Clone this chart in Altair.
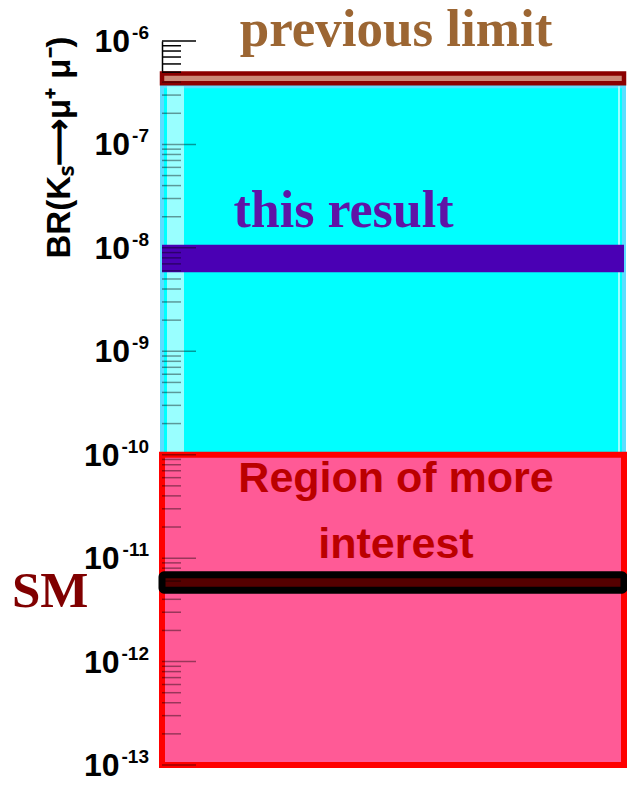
import altair as alt
import pandas as pd

# ---------------- data ----------------
band_names = ["allowed region", "previous limit", "this result", "SM", "Region of more interest"]
band_lo = [1.0e-10, 3.9e-7, 5.8e-9, 4.9e-12, 1.0e-13]
band_hi = [3.65e-7, 4.85e-7, 1.07e-8, 6.9e-12, 1.0e-10]

decades = [-13, -12, -11, -10, -9, -8, -7, -6]
minor_mult = [2, 3, 4, 5, 6, 7, 8, 9]

region_lines = ["Region of more", "interest"]
y_title = "BR(Kₛ⟶μ⁺ μ⁻)"

# ---------------- tables ----------------
W, H = 462, 724
bands = pd.DataFrame({"name": band_names, "lo": band_lo, "hi": band_hi})
major_df = pd.DataFrame({"e": decades})
minor_df = pd.DataFrame(
    {"v": [m * 10.0 ** e for e in decades[:-1] for m in minor_mult]}
)

yscale = alt.Scale(type="log", domain=[1e-13, 1e-6], nice=False)
AX = alt.Axis(
    title=y_title,
    labels=False,
    ticks=False,
    grid=False,
    domain=True,
    domainColor="black",
    domainWidth=1.5,
    titleFont="Liberation Sans",
    titleFontSize=33,
    titleFontWeight="bold",
    titleColor="black",
    titleAngle=270,
    titleAlign="center",
    titleBaseline="alphabetic",
    titleX=-93,
    titleY=106,
)


def Y(field):
    return alt.Y(field, type="quantitative", scale=yscale, axis=AX)


def band(name, **kw):
    return (
        alt.Chart(bands)
        .transform_filter(alt.datum.name == name)
        .mark_rect(**kw)
        .encode(y=Y("lo"), y2="hi", x=alt.value(0), x2=alt.value(W))
    )


cyan = band("allowed region", fill="#00FFFF", stroke="#5EDDFF", strokeWidth=4)
strip_left = (
    alt.Chart(bands)
    .transform_filter(alt.datum.name == "allowed region")
    .mark_rect(fill="#99FFFF")
    .encode(y=Y("lo"), y2="hi", x=alt.value(5), x2=alt.value(22))
)
strip_right = (
    alt.Chart(bands)
    .transform_filter(alt.datum.name == "allowed region")
    .mark_rect(fill="#99FFFF")
    .encode(y=Y("lo"), y2="hi", x=alt.value(W - 6), x2=alt.value(W - 4))
)
red = band("Region of more interest", fill="#FF5A96", stroke="#FF0000", strokeWidth=6)
prev = band("previous limit", fill="#CC8877", stroke="#8B0000", strokeWidth=4.5)
this = band("this result", fill="#4A00B4")
sm = band("SM", fill="#550000", stroke="black", strokeWidth=7, cornerRadius=2)

tick_op = alt.condition("datum.v >= 4.9e-7", alt.value(1.0), alt.value(0.4))
major_ticks = (
    alt.Chart(major_df)
    .transform_calculate(v="pow(10, datum.e)")
    .mark_rule(color="black", strokeWidth=1.5)
    .encode(y=Y("v"), x=alt.value(0), x2=alt.value(34), opacity=tick_op)
)
minor_ticks = (
    alt.Chart(minor_df)
    .mark_rule(color="black", strokeWidth=1.5)
    .encode(y=Y("v"), x=alt.value(0), x2=alt.value(19), opacity=tick_op)
)

# axis labels 10^e built from base + exponent
lab_base = (
    alt.Chart(major_df)
    .transform_calculate(v="pow(10, datum.e)", px="datum.e <= -10 ? -42.5 : -32", t="'10'")
    .mark_text(font="Liberation Sans", fontWeight="bold", fontSize=32, align="right",
               baseline="alphabetic", dy=11, color="black")
    .encode(y=Y("v"), x=alt.X("px:Q", scale=None), text="t:N")
)
lab_exp = (
    alt.Chart(major_df)
    .transform_calculate(v="pow(10, datum.e)", t="toString(datum.e)")
    .mark_text(font="Liberation Sans", fontWeight="bold", fontSize=19, align="right",
               baseline="alphabetic", dy=-2, color="black")
    .encode(y=Y("v"), x=alt.value(-13), text="t:N")
)


def label(name, **kw):
    return alt.Chart(bands).transform_filter(alt.datum.name == name).mark_text(
        baseline="alphabetic", **kw
    )


txt_prev = label("previous limit", font="Liberation Serif", fontWeight="bold",
                 fontSize=53, color="#9C6633", align="center", dy=-28).encode(
    y=Y("hi"), x=alt.value(W / 2 + 3), text="name:N")
txt_this = label("this result", font="Liberation Serif", fontWeight="bold",
                 fontSize=52, color="#5F14A6", align="center", dy=-18).encode(
    y=Y("hi"), x=alt.value(181.5), text="name:N")
txt_region = label("Region of more interest", font="Liberation Sans", fontWeight="bold",
                   fontSize=43, color="#BB0000", align="center", dy=37, lineHeight=66).encode(
    y=Y("hi"), x=alt.value(W / 2 + 3), text=alt.value(region_lines))
txt_sm = label("SM", font="Liberation Serif", fontWeight="bold",
               fontSize=51, color="#800000", align="left", dy=17).encode(
    y=Y("lo"), x=alt.value(-150), text="name:N")

chart = (
    alt.layer(
        cyan, strip_left, strip_right, red, prev, this, sm,
        minor_ticks, major_ticks, lab_base, lab_exp,
        txt_prev, txt_this, txt_region, txt_sm,
    )
    .properties(
        width=W,
        height=H,
        autosize=alt.AutoSizeParams(type="none"),
        padding={"left": 154, "top": 33, "right": 3, "bottom": 13},
        background="white",
    )
    .configure_view(stroke=None)
)

chart.save("out.html", embed_options={"renderer": "svg", "actions": False})
